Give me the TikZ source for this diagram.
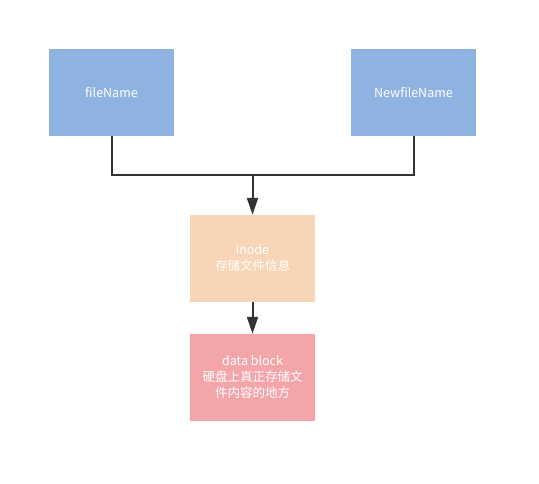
\documentclass[tikz,border=0pt]{standalone}
\usepackage{fontspec}
\setmainfont{Noto Sans CJK SC}
\usetikzlibrary{arrows.meta}
\definecolor{boxblue}{HTML}{8EB3E0}
\definecolor{boxpeach}{HTML}{F9D5B8}
\definecolor{boxpink}{HTML}{F4A5A9}
\definecolor{linegray}{HTML}{333333}
\tikzset{
  card/.style={minimum width=125pt, minimum height=87pt, inner sep=0pt, text=white, align=center,
    font=\fontsize{12.5pt}{16pt}\selectfont},
  conn/.style={draw=linegray, line width=2pt},
  arr/.style={conn, -{Triangle[length=17pt,width=11pt]}}
}
\begin{document}
\begin{tikzpicture}[x=1pt,y=-1pt]
\useasboundingbox (0,0) rectangle (539,484);
\node[card, fill=boxblue] (fn) at (111.5,92.5) {fileName};
\node[card, fill=boxblue] (nfn) at (413.5,92.5) {NewfileName};
\node[card, fill=boxpeach] (inode) at (252.5,258.5) {inode\\存储文件信息};
\node[card, fill=boxpink] (db) at (252.5,377.5) {data block\\硬盘上真正存储文\\件内容的地方};
\coordinate (j) at (252.5,175);
\draw[conn] (fn.south) |- (j) -| (nfn.south);
\draw[arr] (j) -- (inode.north);
\draw[arr] (inode.south) -- (db.north);
\end{tikzpicture}
\end{document}
